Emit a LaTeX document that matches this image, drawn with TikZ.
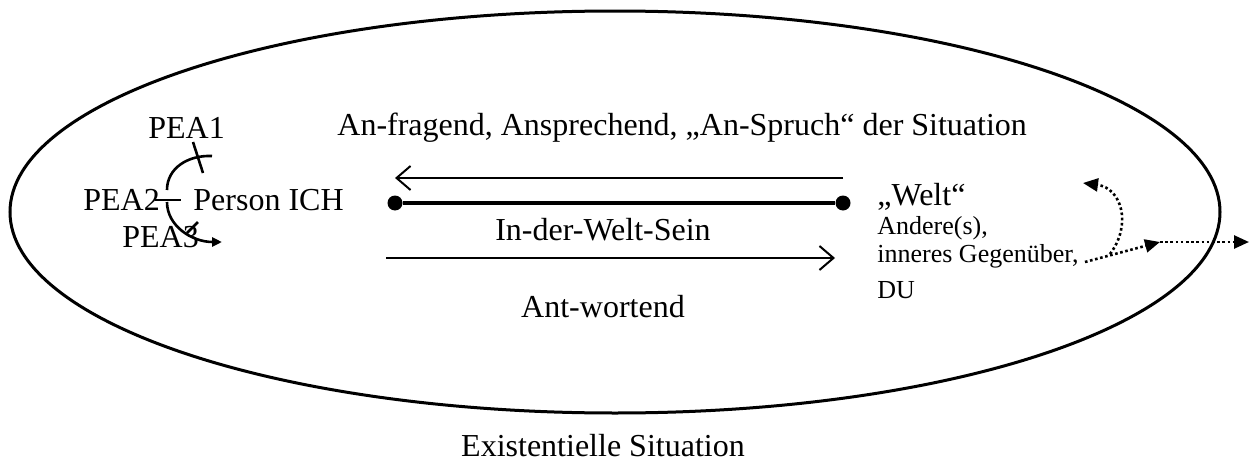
\documentclass[tikz,border=0pt]{standalone}
\usepackage{fontspec}
\setmainfont{Liberation Serif}
\usetikzlibrary{arrows.meta,shapes.geometric}
\begin{document}
\begin{tikzpicture}[x=0.5pt,y=-0.5pt,
  big/.style={font=\fontsize{16}{19}\selectfont, inner sep=0pt},
  small/.style={font=\fontsize{13}{16}\selectfont, inner sep=0pt},
  thinline/.style={line width=1pt},
  pealine/.style={line width=1.3pt},
  dotline/.style={line width=1.3pt, dash pattern=on 1.3pt off 1.3pt},
  tri/.style={-{Triangle[length=7.5pt,width=6.5pt]}},
  barb/.style={-{Straight Barb[length=7pt,width=12pt]}},
  dot/.style={circle, fill, inner sep=0pt, minimum size=7.5pt}
]
\useasboundingbox (0,0) rectangle (1249,466);
% ellipse
\node[draw, ellipse, line width=1.5pt, minimum width=605pt, minimum height=201pt, inner sep=0pt] (sit) at (615,212) {};
% texts
\node[big, anchor=west] (pea1) at (148,128) {PEA1};
\node[big, anchor=west] (top) at (337,128) {An-fragend, Ansprechend, „An-Spruch“ der Situation};
\node[big, anchor=west] (pea2) at (83,200) {PEA2};
\node[big, anchor=west] (ich) at (193,200) {Person ICH};
\node[big, anchor=west] (pea3) at (122,237) {PEA3};
\node[big] (idws) at (603,230) {In-der-Welt-Sein};
\node[big] (ant) at (603,307) {Ant-wortend};
\node[big] (exs) at (603,446) {Existentielle Situation};
\node[big, anchor=west] (welt) at (877,197) {„Welt“};
\node[small, anchor=west] (and) at (877,228) {Andere(s),};
\node[small, anchor=west] (inn) at (877,256) {inneres Gegenüber,};
\node[small, anchor=west] (du) at (877,290) {DU};
% thick line with dots
\node[dot] (l) at (395,203) {};
\node[dot] (r) at (843,203) {};
\draw[line width=2.2pt] (l) -- (r);
% arrows
\coordinate (la1) at (843,178);
\coordinate (la2) at (395,178);
\draw[thinline, barb] (la1) -- (la2);
\coordinate (ra1) at (386,258);
\coordinate (ra2) at (835,258);
\draw[thinline, barb] (ra1) -- (ra2);
% dotted arrows
\coordinate (g1) at (1085,262);
\coordinate (t1) at (1160,242);
\coordinate (t2) at (1249,242);
\coordinate (c0) at (1110,254);
\coordinate (c1) at (1083,183);
\draw[dotline, tri] (g1) -- (t1);
\draw[dotline, tri] (t1) -- (t2);
\draw[dotline, tri] (c0) .. controls (1132,225) and (1122,188) .. (c1);
% PEA arcs
\coordinate (ua0) at (167,190);
\coordinate (ua1) at (212,156);
\coordinate (tk1a) at (193,142);
\coordinate (tk1b) at (203,173);
\coordinate (hz0) at (155,200);
\coordinate (hz1) at (181,200);
\coordinate (la0) at (167,202);
\coordinate (laE) at (222,242);
\coordinate (tk3a) at (187,233);
\coordinate (tk3b) at (198,222);
\draw[pealine] (ua0) .. controls (167,168) and (188,155) .. (ua1);
\draw[pealine] (tk1a) -- (tk1b);
\draw[pealine] (hz0) -- (hz1);
\draw[pealine, -{Triangle[length=5pt,width=4.5pt]}] (la0) .. controls (167,226) and (192,242) .. (laE);
\draw[pealine] (tk3a) -- (tk3b);
\end{tikzpicture}
\end{document}
